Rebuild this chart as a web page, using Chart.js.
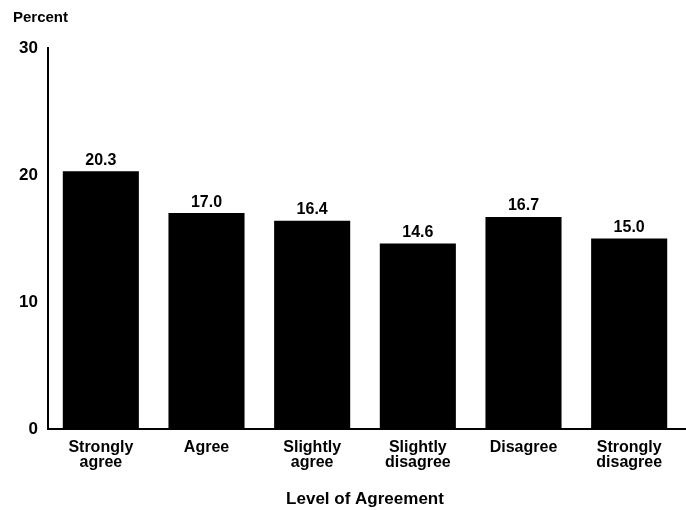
<!DOCTYPE html>
<html>
<head>
<meta charset="utf-8">
<script src="https://cdn.jsdelivr.net/npm/chart.js@4.4.0/dist/chart.umd.min.js"></script>
<style>
  html, body { margin: 0; padding: 0; background: #fff; }
  #wrap { width: 686px; height: 510px; }
</style>
</head>
<body>
<div id="wrap"><canvas id="agreeChart" width="686" height="510"></canvas></div>
<script>
const categories = [['Strongly', 'agree'], 'Agree', ['Slightly', 'agree'], ['Slightly', 'disagree'], 'Disagree', ['Strongly', 'disagree']];
const percents = [20.3, 17.0, 16.4, 14.6, 16.7, 15.0];
const yTicks = [0, 10, 20, 30];

const FONT = "'Liberation Sans', Arial, Helvetica, sans-serif";

// value labels above bars, "Percent" header, x axis line run to the edge
const labelPlugin = {
    id: 'labels',
    afterDatasetsDraw(chart) {
        const ctx = chart.ctx;
        const meta = chart.getDatasetMeta(0);
        const area = chart.chartArea;
        const yLine = Math.round(chart.scales.x.top);
        ctx.save();
        ctx.strokeStyle = '#000';
        ctx.lineWidth = 2;
        ctx.beginPath();
        ctx.moveTo(area.right - 2, yLine);
        ctx.lineTo(chart.width, yLine);
        ctx.stroke();
        ctx.fillStyle = '#000';
        ctx.font = 'bold 16px ' + FONT;
        ctx.textAlign = 'center';
        ctx.textBaseline = 'bottom';
        meta.data.forEach((bar, i) => {
            ctx.fillText(percents[i].toFixed(1), bar.x, bar.y - 3);
        });
        ctx.font = 'bold 15px ' + FONT;
        ctx.textAlign = 'left';
        ctx.textBaseline = 'middle';
        ctx.fillText('Percent', 13, 18);
        ctx.restore();
    }
};

const ctx = document.getElementById('agreeChart').getContext('2d');
const agreeChart = new Chart(ctx, {
    type: 'bar',
    data: {
        labels: categories,
        datasets: [{
            data: percents,
            backgroundColor: '#000',
            borderWidth: 0,
            categoryPercentage: 0.72,
            barPercentage: 1.0
        }]
    },
    options: {
        responsive: false,
        animation: false,
        layout: { padding: { top: 48, right: 4, left: 0, bottom: 0 } },
        plugins: {
            legend: { display: false },
            tooltip: { enabled: false }
        },
        scales: {
            x: {
                grid: { display: false, drawTicks: false },
                border: { color: '#000', width: 2 },
                ticks: {
                    color: '#000',
                    font: { family: FONT, size: 16, weight: 'bold', lineHeight: 0.95 },
                    padding: 11,
                    maxRotation: 0,
                    autoSkip: false
                },
                title: {
                    display: true,
                    text: 'Level of Agreement',
                    color: '#000',
                    font: { family: FONT, size: 17, weight: 'bold' },
                    padding: { top: 14, bottom: 0 }
                },
                afterFit(scale) { scale.height = 81; }
            },
            y: {
                min: 0,
                max: 30,
                afterBuildTicks(scale) { scale.ticks = yTicks.map(v => ({ value: v })); },
                grid: { display: false, drawTicks: false },
                border: { color: '#000', width: 2 },
                ticks: {
                    color: '#000',
                    font: { family: FONT, size: 17, weight: 'bold' },
                    padding: 10
                },
                afterFit(scale) { scale.width = 48; }
            }
        }
    },
    plugins: [labelPlugin]
});
</script>
</body>
</html>
